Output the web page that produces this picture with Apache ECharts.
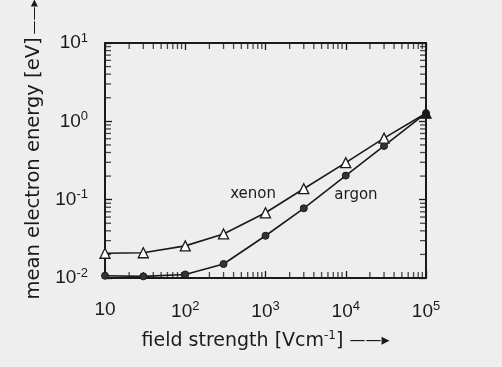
<!DOCTYPE html>
<html><head><meta charset="utf-8">
<script src="https://cdn.jsdelivr.net/npm/echarts@6/dist/echarts.min.js"></script>
<style>html,body{margin:0;padding:0;background:#eeeeee}#c{width:502px;height:367px}</style>
</head><body><div id="c"></div>
<script>
// field strength [V/cm]
const fieldStrength = [10, 30, 100, 300, 1000, 3000, 10000, 30000, 100000];
const xenonEnergy = [0.0207, 0.021, 0.0257, 0.0365, 0.068, 0.138, 0.297, 0.61, 1.27];
const argonEnergy = [0.0107, 0.0105, 0.0111, 0.0151, 0.0346, 0.0775, 0.203, 0.485, 1.27];
const xTickExponents = [1, 2, 3, 4, 5];
const yTickExponents = [-2, -1, 0, 1];
const xenonLabel = { text: 'xenon', at: [700, 0.118] };
const argonLabel = { text: 'argon', at: [13400, 0.115] };

const xMinor = [], yMinor = [];
for (let n = 1; n <= 4; n++) for (let k = 2; k <= 9; k++) xMinor.push(k * Math.pow(10, n));
for (let n = -2; n <= 0; n++) for (let k = 2; k <= 9; k++) yMinor.push(+(k * Math.pow(10, n)).toPrecision(3));

const X0 = 10, X1 = 100000, Y0 = 0.01, Y1 = 10;
const FONT = 'DejaVu Sans';
const NUMFONT = 'Liberation Sans';
const INK = '#1a1a1a';
const ARROW = '\u2014\u2014\u25B8';

function powLabel(v, showTen) {
  const e = Math.round(Math.log10(v));
  if (showTen && e === 1) return '{b|10}';
  return '{b|10}{s|' + (e < 0 ? '-' + (-e) : e) + '}';
}
const rich = {
  b: { fontSize: 19, fontFamily: NUMFONT, color: INK },
  s: { fontSize: 13, fontFamily: NUMFONT, color: INK, padding: [0, 0, 10, 0] }
};

function axisBase(extra) {
  return Object.assign({
    type: 'log', logBase: 10, interval: 1,
    axisLine: { show: true, lineStyle: { color: INK, width: 2 } },
    axisTick: { show: true, inside: true, length: 7, lineStyle: { color: INK, width: 1.3 } },
    splitLine: { show: false },
    minorTick: { show: false }
  }, extra);
}

const tickStyle = { color: INK };
function tickSeries(data, size, offset) {
  return {
    type: 'scatter', data: data,
    symbol: 'rect', symbolSize: size, symbolOffset: offset,
    itemStyle: tickStyle, silent: true, clip: false, z: 1,
    emphasis: { disabled: true }
  };
}

function textMark(lbl) {
  return {
    symbol: 'circle', symbolSize: 1, silent: true,
    itemStyle: { color: 'rgba(0,0,0,0)' },
    label: { show: true, position: 'inside', fontSize: 15, fontFamily: FONT, color: INK, formatter: lbl.text },
    data: [{ coord: lbl.at }]
  };
}

const option = {
  backgroundColor: '#eeeeee',
  animation: false,
  grid: { left: 105, right: 76, top: 43, bottom: 89, containLabel: false, outerBoundsMode: 'none' },
  xAxis: [
    axisBase({
      min: X0, max: X1, position: 'bottom',
      axisLabel: { margin: 22, formatter: v => powLabel(v, true), rich: rich },
      name: 'field strength [Vcm{s|-1}] {ar|' + ARROW + '}',
      nameLocation: 'middle', nameGap: 52,
      nameTextStyle: { fontSize: 19, fontFamily: FONT, color: INK,
        rich: {
          s: { fontSize: 12, fontFamily: FONT, color: INK, padding: [0, 0, 10, 0] },
          ar: { fontSize: 16, fontFamily: FONT, color: INK }
        } }
    }),
    axisBase({ min: X0, max: X1, position: 'top', axisLabel: { show: false } })
  ],
  yAxis: [
    axisBase({
      min: Y0, max: Y1, position: 'left',
      axisLabel: { margin: 17, formatter: v => powLabel(v, false), rich: rich },
      name: 'mean electron energy [eV]{ar|\u2009' + ARROW + '}',
      nameLocation: 'middle', nameGap: 57, nameRotate: 90,
      nameTextStyle: { fontSize: 19.5, fontFamily: FONT, color: INK, padding: [0, 0, 0, 22],
        rich: { ar: { fontSize: 14, fontFamily: FONT, color: INK } } }
    }),
    axisBase({ min: Y0, max: Y1, position: 'right', axisLabel: { show: false } })
  ],
  series: [
    tickSeries(xMinor.map(v => [v, Y0]), [1.3, 6], [0, -3]),
    tickSeries(xMinor.map(v => [v, Y1]), [1.3, 6], [0, 3]),
    tickSeries(yMinor.map(v => [X0, v]), [6, 1.3], [3, 0]),
    tickSeries(yMinor.map(v => [X1, v]), [6, 1.3], [-3, 0]),
    {
      name: 'argon', type: 'line', data: fieldStrength.map((x, i) => [x, argonEnergy[i]]),
      symbol: 'circle', symbolSize: 7,
      lineStyle: { color: INK, width: 1.6 },
      itemStyle: { color: '#333', borderColor: INK, borderWidth: 1 },
      z: 3,
      markPoint: textMark(argonLabel)
    },
    {
      name: 'xenon', type: 'line',
      data: fieldStrength.map((x, i) => {
        const d = { value: [x, xenonEnergy[i]] };
        if (i === fieldStrength.length - 1) d.itemStyle = { color: INK };
        return d;
      }),
      symbol: 'triangle', symbolSize: 10,
      lineStyle: { color: INK, width: 1.6 },
      itemStyle: { color: '#ffffff', borderColor: INK, borderWidth: 1.3 },
      z: 4,
      markPoint: textMark(xenonLabel)
    }
  ]
};
const chart = echarts.init(document.getElementById('c'), null, { renderer: 'canvas' });
chart.setOption(option);
</script></body></html>
